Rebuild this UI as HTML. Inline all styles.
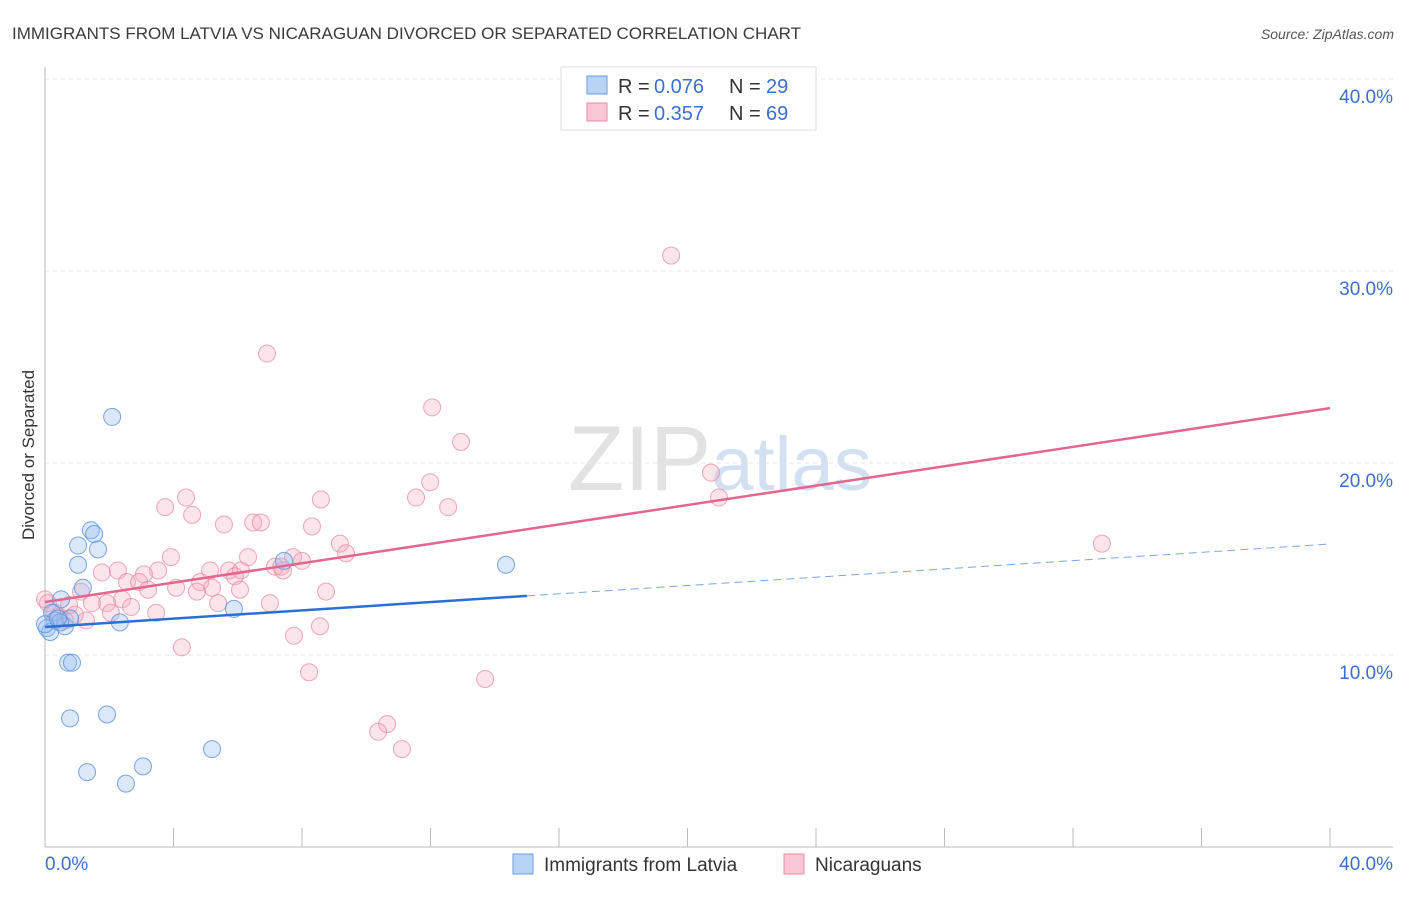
<!DOCTYPE html>
<html><head><meta charset="utf-8"><style>
body{margin:0;background:#fff;font-family:"Liberation Sans",sans-serif}
svg text{font-family:"Liberation Sans",sans-serif}
</style></head><body>
<svg width="1406" height="892" viewBox="0 0 1406 892">
<text x="12" y="39" font-size="17" fill="#3a3a3a">IMMIGRANTS FROM LATVIA VS NICARAGUAN DIVORCED OR SEPARATED CORRELATION CHART</text>
<text x="1394" y="39" font-size="14" fill="#555" font-style="italic" text-anchor="end">Source: ZipAtlas.com</text>
<text x="720" y="490" font-size="92" fill="#e2e2e2" text-anchor="middle" font-family="Liberation Serif">ZIP<tspan fill="#d3e0f2" font-family="Liberation Sans" font-size="76">atlas</tspan></text>
<g id="grid"></g>
<g id="axes"></g>
<g id="pts"></g>
<g id="lines"></g>
<text transform="translate(34,455) rotate(-90)" font-size="17" fill="#333" text-anchor="middle">Divorced or Separated</text>
<g>
<rect x="561" y="67" width="255" height="63" fill="#fff" stroke="#ddd"/>
<rect x="587" y="76" width="20" height="18" fill="#b8d3f5" stroke="#6b9be0"/>
<text x="618" y="93" font-size="20" fill="#333">R = </text><text x="654" y="93" font-size="20" fill="#3a6fd0">0.076</text>
<text x="729" y="93" font-size="20" fill="#333">N = </text><text x="766" y="93" font-size="20" fill="#3a6fd0">29</text>
<rect x="587" y="103" width="20" height="18" fill="#f9c6d4" stroke="#e889a6"/>
<text x="618" y="120" font-size="20" fill="#333">R = </text><text x="654" y="120" font-size="20" fill="#3a6fd0">0.357</text>
<text x="729" y="120" font-size="20" fill="#333">N = </text><text x="766" y="120" font-size="20" fill="#3a6fd0">69</text>
</g>
<g>
<rect x="513" y="854" width="20" height="20" fill="#b8d3f5" stroke="#6b9be0"/>
<text x="544" y="871" font-size="19" fill="#333">Immigrants from Latvia</text>
<rect x="784" y="854" width="20" height="20" fill="#f9c6d4" stroke="#e889a6"/>
<text x="815" y="871" font-size="19" fill="#333">Nicaraguans</text>
</g>
</svg>
<script>
const latviaX=[2.09,1.43,1.53,1.03,1.65,1.03,1.18,0.50,0.22,0.31,0.06,0.16,0.62,0.78,0.47,2.33,5.88,7.44,14.35,0.72,0.84,0.78,1.93,5.20,3.05,1.31,2.52,0,0.40];
const latviaY=[22.4,16.5,16.3,15.7,15.5,14.7,13.5,12.9,12.2,11.8,11.4,11.2,11.5,11.9,11.7,11.7,12.4,14.9,14.7,9.6,9.6,6.7,6.9,5.1,4.2,3.9,3.3,11.6,11.9];
const nicX=[19.49,6.91,12.05,12.95,20.73,11.99,11.55,8.59,20.98,4.39,12.55,3.74,4.58,5.57,6.48,6.72,8.31,32.9,9.18,9.37,3.92,6.32,7.72,8.0,7.16,7.41,7.35,3.52,2.27,5.14,5.73,6.10,1.77,3.08,4.83,5.91,2.55,2.93,4.08,3.21,5.20,4.73,6.07,1.12,8.75,2.40,1.93,5.39,7.0,1.46,2.68,3.46,2.05,0.75,0.09,0.93,1.28,0.44,8.56,7.75,4.26,8.22,13.70,10.65,10.37,11.11,0.62,0.31,0];
const nicY=[30.8,25.7,22.9,21.1,19.5,19.0,18.2,18.1,18.2,18.2,17.7,17.7,17.3,16.8,16.9,16.9,16.7,15.8,15.8,15.3,15.1,15.1,15.1,14.9,14.6,14.4,14.6,14.4,14.4,14.4,14.4,14.4,14.3,14.2,13.8,14.1,13.8,13.8,13.5,13.4,13.5,13.3,13.4,13.3,13.3,12.9,12.7,12.7,12.7,12.7,12.5,12.2,12.2,12.6,12.7,12.1,11.8,12.0,11.5,11.0,10.4,9.1,8.75,6.4,6.0,5.1,11.8,12.2,12.9];
const latviaTrend=[11.46,15.78];
const nicTrend=[12.76,22.86];
const yTicks=[10,20,30,40];
const xTickLabels=["0.0%","40.0%"];
const NS="http://www.w3.org/2000/svg";
const X=v=>45+v/40*1285, Y=v=>847-v*19.2;
function mk(p,tag,a){const e=document.createElementNS(NS,tag);for(const k in a)e.setAttribute(k,a[k]);p.appendChild(e);return e;}
const grid=document.getElementById('grid'),axes=document.getElementById('axes'),pts=document.getElementById('pts'),lines=document.getElementById('lines');
yTicks.forEach(t=>{
 const l=mk(grid,'line',{x1:45,x2:1393,y1:Y(t),y2:Y(t),stroke:'#e4e4e4','stroke-dasharray':'4,4'});
 
 
 const tx=mk(axes,'text',{x:1393,y:Y(t)+24,'font-size':19,fill:'#3a6fd0','text-anchor':'end'});
 tx.textContent=t.toFixed(1)+'%';
 
 
});
mk(axes,'line',{x1:45,x2:45,y1:67,y2:847,stroke:'#bbb'});
mk(axes,'line',{x1:45,x2:1393,y1:847,y2:847,stroke:'#bbb'});
for(let i=1;i<=10;i++){const t=mk(axes,'line',{x1:X(i*4),x2:X(i*4),y1:828,y2:847,stroke:'#bbb'});
 
 }
const l0=mk(axes,'text',{x:45,y:870,'font-size':19,fill:'#3a6fd0'});l0.textContent=xTickLabels[0];


const l1=mk(axes,'text',{x:1393,y:870,'font-size':19,fill:'#3a6fd0','text-anchor':'end'});l1.textContent=xTickLabels[1];


nicX.forEach((x,i)=>{const c=mk(pts,'circle',{cx:X(x),cy:Y(nicY[i]),r:8.5,fill:'rgba(244,165,188,0.3)',stroke:'rgba(232,137,166,0.75)','stroke-width':1});
 
 });
latviaX.forEach((x,i)=>{const c=mk(pts,'circle',{cx:X(x),cy:Y(latviaY[i]),r:8.5,fill:'rgba(150,190,240,0.35)',stroke:'rgba(90,144,216,0.8)','stroke-width':1});
 
 });
const ly=x=>latviaTrend[0]+(latviaTrend[1]-latviaTrend[0])*x/40;
const a=mk(lines,'line',{x1:X(0),y1:Y(ly(0)),x2:X(15),y2:Y(ly(15)),stroke:'#2a6fd6','stroke-width':2.5});


const b=mk(lines,'line',{x1:X(15),y1:Y(ly(15)),x2:X(40),y2:Y(ly(40)),stroke:'#7aa6e2','stroke-width':1,'stroke-dasharray':'8,5'});


const c=mk(lines,'line',{x1:X(0),y1:Y(nicTrend[0]),x2:X(40),y2:Y(nicTrend[1]),stroke:'#e4668f','stroke-width':2.5});


</script>
</body></html>
